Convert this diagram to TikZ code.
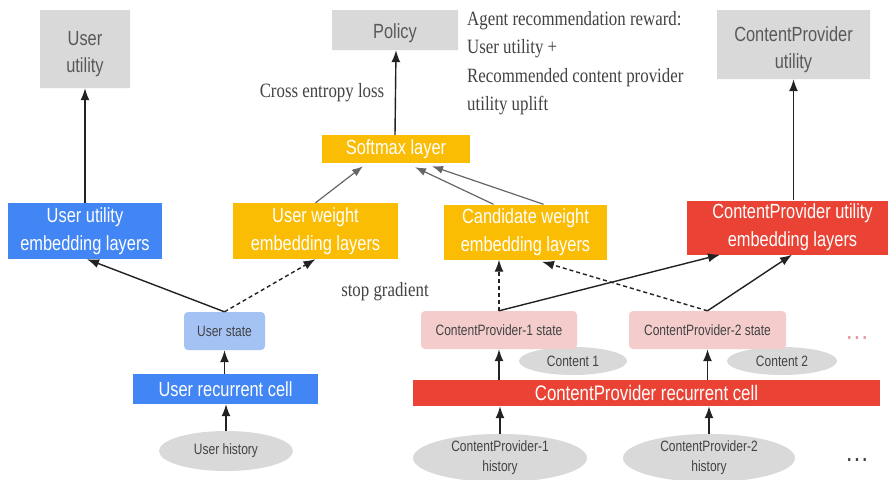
\documentclass[tikz,border=0pt]{standalone}
\usepackage{fontspec}
\usetikzlibrary{arrows.meta,shapes.geometric,shapes.misc}
\newfontfamily\gsans{Liberation Sans}[FakeStretch=0.8]
\newfontfamily\gserif{Liberation Serif}[FakeStretch=0.83]
\definecolor{gblue}{HTML}{4285F4}
\definecolor{gorange}{HTML}{FBBC04}
\definecolor{gred}{HTML}{EA4335}
\definecolor{ggray}{HTML}{D9D9D9}
\definecolor{glightblue}{HTML}{A4C2F4}
\definecolor{gpink}{HTML}{F4CCCC}
\definecolor{gdots}{HTML}{E39A9A}
\definecolor{gtext}{HTML}{595959}
\definecolor{gdark}{HTML}{434343}
\definecolor{gline}{HTML}{222222}
\definecolor{gsoft}{HTML}{666666}
\begin{document}
\begin{tikzpicture}[x=1pt,y=-1pt,
  outbox/.style={chamfered rectangle, chamfered rectangle corners={north west,north east},
    chamfered rectangle xsep=6.5pt, chamfered rectangle ysep=6.5pt,
    fill=ggray, inner sep=0pt},
  outtext/.style={inner sep=0pt, text=gtext, align=center,
    font=\gsans\fontsize{20.5}{27}\selectfont},
  layer/.style={rectangle, inner sep=0pt, text=white, align=center,
    font=\gsans\fontsize{20.5}{28}\selectfont},
  statebox/.style={rectangle, rounded corners=4pt, inner sep=0pt, text=gdark,
    font=\gsans\fontsize{15}{18}\selectfont},
  inputel/.style={ellipse, fill=ggray, inner sep=0pt, text=gdark, align=center,
    font=\gsans\fontsize{15}{20}\selectfont},
  note/.style={inner sep=0pt, text=gdark, font=\gserif\fontsize{20.3}{28.5}\selectfont},
  arr/.style={draw=gline, line width=1.4pt, -{Latex[length=12pt,width=9pt]}},
  stopgrad/.style={arr, dashed, dash pattern=on 4pt off 3pt},
  softarr/.style={draw=gsoft, line width=1.2pt, -{Latex[length=11pt,width=8pt]}}
]
\fill[white] (0,0) rectangle (890,479);
\useasboundingbox (0,0) rectangle (890,479);

% outputs
\node[outbox, minimum width=90pt, minimum height=78pt] (uu) at (85,49) {};
\node[outtext] (uut) at (85,54) {User\\utility};
\node[outbox, minimum width=126pt, minimum height=40pt] (pol) at (395,30) {};
\node[outtext] (polt) at (395,33) {Policy};
\node[outbox, minimum width=153pt, minimum height=69pt] (cpu) at (793.5,44.5) {};
\node[outtext] (cput) at (793.5,49.5) {ContentProvider\\utility};

% embedding / softmax layers
\node[layer, fill=gorange, minimum width=148pt, minimum height=28pt] (soft) at (396,149) {Softmax layer};
\node[layer, fill=gblue, minimum width=154pt, minimum height=56pt] (uue) at (85,231) {User utility\\embedding layers};
\node[layer, fill=gorange, minimum width=165pt, minimum height=56pt] (uw) at (315.5,231) {User weight\\embedding layers};
\node[layer, fill=gorange, minimum width=163pt, minimum height=55pt] (cw) at (525.5,232) {Candidate weight\\embedding layers};
\node[layer, fill=gred, minimum width=201pt, minimum height=54pt] (cpue) at (787.5,227.5) {\hspace{10pt}ContentProvider utility\\\hspace{10pt}embedding layers};

% content items (behind the state boxes)
\node[inputel, minimum width=108pt, minimum height=28pt] (c1) at (573,361) {Content 1};
\node[inputel, minimum width=110pt, minimum height=28pt] (c2) at (782,361) {Content 2};

% states
\node[statebox, fill=glightblue, minimum width=81pt, minimum height=38pt] (us) at (224.5,331) {User state};
\node[statebox, fill=gpink, minimum width=156pt, minimum height=38pt] (cp1) at (499,330) {ContentProvider-1 state};
\node[statebox, fill=gpink, minimum width=157pt, minimum height=38pt] (cp2) at (707.5,330) {ContentProvider-2 state};

% recurrent cells
\node[layer, fill=gblue, minimum width=185pt, minimum height=30pt] (ucell) at (225.5,389) {User recurrent cell};
\node[layer, fill=gred, minimum width=467pt, minimum height=26pt, font=\gsans\fontsize{21}{26}\selectfont] (cpcell) at (646.5,393) {ContentProvider recurrent cell};

% histories
\node[inputel, minimum width=134pt, minimum height=40pt] (uh) at (226,451) {User history};
\node[inputel, minimum width=174pt, minimum height=44pt] (cp1h) at (500,458) {ContentProvider-1\\history};
\node[inputel, minimum width=172pt, minimum height=44pt] (cp2h) at (709,458) {ContentProvider-2\\history};

% ellipsis markers
\node[inner sep=0pt, anchor=base, text=gdots, font=\gsans\bfseries\fontsize{20}{20}\selectfont] (moreS) at (857,339) {.\,.\,.};
\node[inner sep=0pt, anchor=base, text=gdark, font=\gsans\bfseries\fontsize{20}{20}\selectfont] (moreH) at (857,461) {.\,.\,.};

% annotations
\node[note] (ce) at (322,93) {Cross entropy loss};
\node[note, anchor=west, align=left] (rw) at (467,63) {Agent recommendation reward:\\User utility +\\Recommended content provider\\utility uplift};
\node[note] (sg) at (385,292) {stop gradient};

% connectors: outputs
\draw[arr] (uue.north) -- (uu.south);
\draw[arr] (soft.north -| pol.south) -- (pol.south -| soft.north);
\draw[arr] (cpue.north -| cpu.south) -- (cpu.south);

% into softmax
\draw[softarr] (uw.north) -- ([xshift=-33pt,yshift=-3pt]soft.south);
\draw[softarr] ([xshift=-32pt]cw.north) -- ([xshift=19pt,yshift=-4pt]soft.south);
\draw[softarr] ([xshift=18pt]cw.north) -- ([xshift=36pt,yshift=-3pt]soft.south);

% from the user state
\draw[arr] (us.north) -- ([xshift=2pt]uue.south);
\draw[stopgrad] (us.north) -- (uw.south);

% from the content provider states
\draw[stopgrad] (cp1.north) -- (cp1.north |- cw.south);
\draw[arr] (cp1.north) -- ([xshift=-67.5pt]cpue.south);
\draw[stopgrad] (cp2.north) -- ([xshift=16.5pt,yshift=-2pt]cw.south);
\draw[arr] (cp2.north) -- ([xshift=4.5pt]cpue.south);

% recurrent cells to states
\draw[arr] (ucell.north -| us.south) -- (us.south);
\draw[arr] (cpcell.north -| cp1.south) -- (cp1.south);
\draw[arr] (cpcell.north -| cp2.south) -- (cp2.south);

% histories to recurrent cells
\draw[arr] (uh.north) -- (uh.north |- ucell.south);
\draw[arr] (cp1h.north) -- (cp1h.north |- cpcell.south);
\draw[arr] (cp2h.north) -- (cp2h.north |- cpcell.south);
\end{tikzpicture}
\end{document}
